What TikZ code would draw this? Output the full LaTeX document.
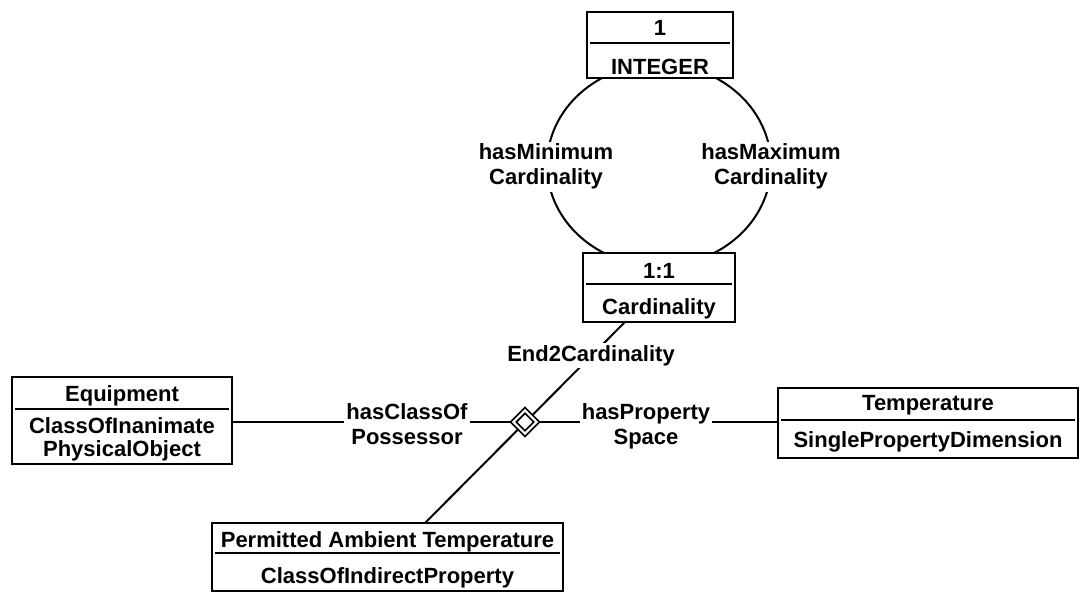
\documentclass[tikz,border=0pt]{standalone}
\usepackage{fontspec}
\setmainfont{Liberation Sans}
\usetikzlibrary{shapes.geometric}
\begin{document}
\begin{tikzpicture}[x=1pt,y=-1pt,
  box/.style={draw, fill=white, line width=2pt, inner sep=0pt, rectangle},
  txt/.style={font=\fontsize{22}{25}\selectfont\bfseries, inner sep=0pt, anchor=base},
  lbl/.style={font=\fontsize{22}{25}\selectfont\bfseries, fill=white, inner sep=2pt, align=center},
  conn/.style={line width=2pt},
  divider/.style={line width=2.2pt}]
\useasboundingbox (0,0) rectangle (1081,592);
% cardinality loop
\draw[conn] (659,165) ellipse [x radius=112pt, y radius=101pt];
% connectors
\coordinate (p1) at (425,523);
\coordinate (p2) at (625,322);
\node[box, minimum width=146pt, minimum height=66pt] (int) at (660,45) {};
\node[box, minimum width=152pt, minimum height=69pt] (card) at (659,287.5) {};
\node[box, minimum width=220pt, minimum height=87pt] (equip) at (122,420.5) {};
\node[box, minimum width=300pt, minimum height=70pt] (temp) at (928,423) {};
\node[box, minimum width=351pt, minimum height=68pt] (perm) at (387.5,557) {};
\coordinate (dc) at (525,422);
\draw[conn] (p1) -- (p2);
\draw[conn] (equip.east |- dc) -- (temp.west |- dc);
\node[diamond, draw, fill=white, double, double distance=2pt, line width=1.9pt,
      minimum width=24pt, minimum height=24pt, inner sep=0pt] (dia) at (dc) {};
% dividers
\draw[divider] ([xshift=4pt]int.west |- 0,43) -- ([xshift=-4pt]int.east |- 0,43);
\draw[divider] ([xshift=4pt]card.west |- 0,284) -- ([xshift=-4pt]card.east |- 0,284);
\draw[divider] ([xshift=4pt]equip.west |- 0,409) -- ([xshift=-4pt]equip.east |- 0,409);
\draw[divider] ([xshift=4pt]temp.west |- 0,420) -- ([xshift=-4pt]temp.east |- 0,420);
\draw[divider] ([xshift=4pt]perm.west |- 0,553) -- ([xshift=-4pt]perm.east |- 0,553);
% box texts
\node[txt] (intv) at (660,35) {1};
\node[txt] (intt) at (660,74) {INTEGER};
\node[txt] (cardv) at (659,278) {1:1};
\node[txt] (cardt) at (659,314) {Cardinality};
\node[txt] (equipv) at (122,401) {Equipment};
\node[txt] (equipt1) at (122,433) {ClassOfInanimate};
\node[txt] (equipt2) at (122,456) {PhysicalObject};
\node[txt] (tempv) at (928,410) {Temperature};
\node[txt] (tempt) at (928,447) {SinglePropertyDimension};
\node[txt] (permv) at (387.5,547) {Permitted Ambient Temperature};
\node[txt] (permt) at (387.5,583) {ClassOfIndirectProperty};
% labels
\node[lbl] (minl) at (546,166.8) {hasMinimum\\Cardinality};
\node[lbl] (maxl) at (771,166.8) {hasMaximum\\Cardinality};
\node[lbl] (posl) at (407,424.5) {hasClassOf\\Possessor};
\node[lbl] (spl) at (646,426.8) {hasProperty\\Space};
\node[lbl, anchor=base] (e2l) at (591,361) {End2Cardinality};
\end{tikzpicture}
\end{document}
